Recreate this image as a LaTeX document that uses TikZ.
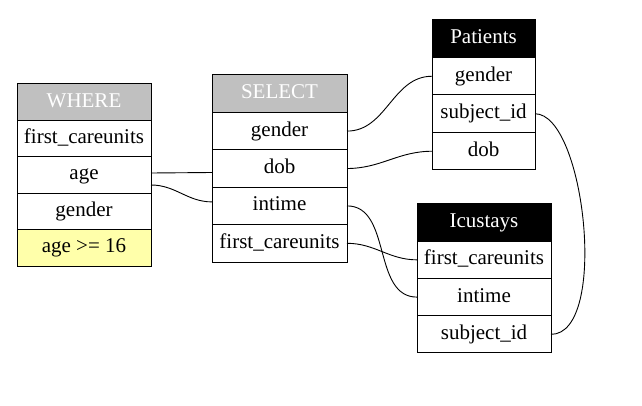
\documentclass[tikz,border=0pt]{standalone}
\usepackage{fontspec}
\setmainfont{Liberation Serif}
\usetikzlibrary{calc}

\definecolor{headgray}{RGB}{192,192,192}
\definecolor{condyellow}{RGB}{255,255,170}

\begin{document}
\begin{tikzpicture}[x=1pt, y=-1pt,
        cell/.style={draw, line width=1pt, inner sep=0pt, outer sep=0pt, fill=white,
            text height=14pt, text depth=4pt, font=\fontsize{21}{24}\selectfont},
        head/.style={cell, text=white},
        link/.style={line width=0.9pt}]
    \useasboundingbox (0,0) rectangle (642,406);

    % WHERE
    \node (where) at (84,102.2) [head, fill=headgray, minimum width=134, minimum height=36.4] {WHERE};
    \foreach \name/\txt [count=\i] in {fc/first\_careunits, age/age, gender/gender}
        {
            \node (where-\name) at ($(where) + (0,36.4*\i)$) [cell, minimum width=134, minimum height=36.4] {\txt};
        }
    \node (where-cond) at ($(where) + (0,36.4*4)$) [cell, fill=condyellow, minimum width=134, minimum height=36.4] {age >= 16};

    % SELECT
    \node (sel) at (279.5,93.7) [head, fill=headgray, minimum width=135, minimum height=37.4] {SELECT};
    \foreach \name/\txt [count=\i] in {gender/gender, dob/dob, intime/intime, fc/first\_careunits}
        {
            \node (sel-\name) at ($(sel) + (0,37.4*\i)$) [cell, minimum width=135, minimum height=37.4] {\txt};
        }

    % Patients
    \node (pat) at (483.5,38.75) [head, fill=black, minimum width=103, minimum height=37.5] {Patients};
    \foreach \name/\txt [count=\i] in {gender/gender, sid/subject\_id, dob/dob}
        {
            \node (pat-\name) at ($(pat) + (0,37.5*\i)$) [cell, minimum width=103, minimum height=37.5] {\txt};
        }

    % Icustays
    \node (icu) at (484,222.6) [head, fill=black, minimum width=134, minimum height=37.25] {Icustays};
    \foreach \name/\txt [count=\i] in {fc/first\_careunits, intime/intime, sid/subject\_id}
        {
            \node (icu-\name) at ($(icu) + (0,37.25*\i)$) [cell, minimum width=134, minimum height=37.25] {\txt};
        }

    % links
    \draw [link] ($(where-age.east) + (0,-2)$) -- ($(sel-dob.west) + (0,4)$);
    \draw [link] ($(where-age.east) + (0,10)$) to[out=0, in=180] ($(sel-intime.west) + (0,-4)$);
    \draw [link] (sel-gender.east) to[out=0, in=180] (pat-gender.west);
    \draw [link] (sel-dob.east) to[out=0, in=180] (pat-dob.west);
    \draw [link] (sel-intime.east) to[out=0, in=180] (icu-intime.west);
    \draw [link] (sel-fc.east) to[out=0, in=180] (icu-fc.west);
    \draw [link] (pat-sid.east) .. controls +(50,0) and +(58,0) .. (icu-sid.east);
\end{tikzpicture}
\end{document}
